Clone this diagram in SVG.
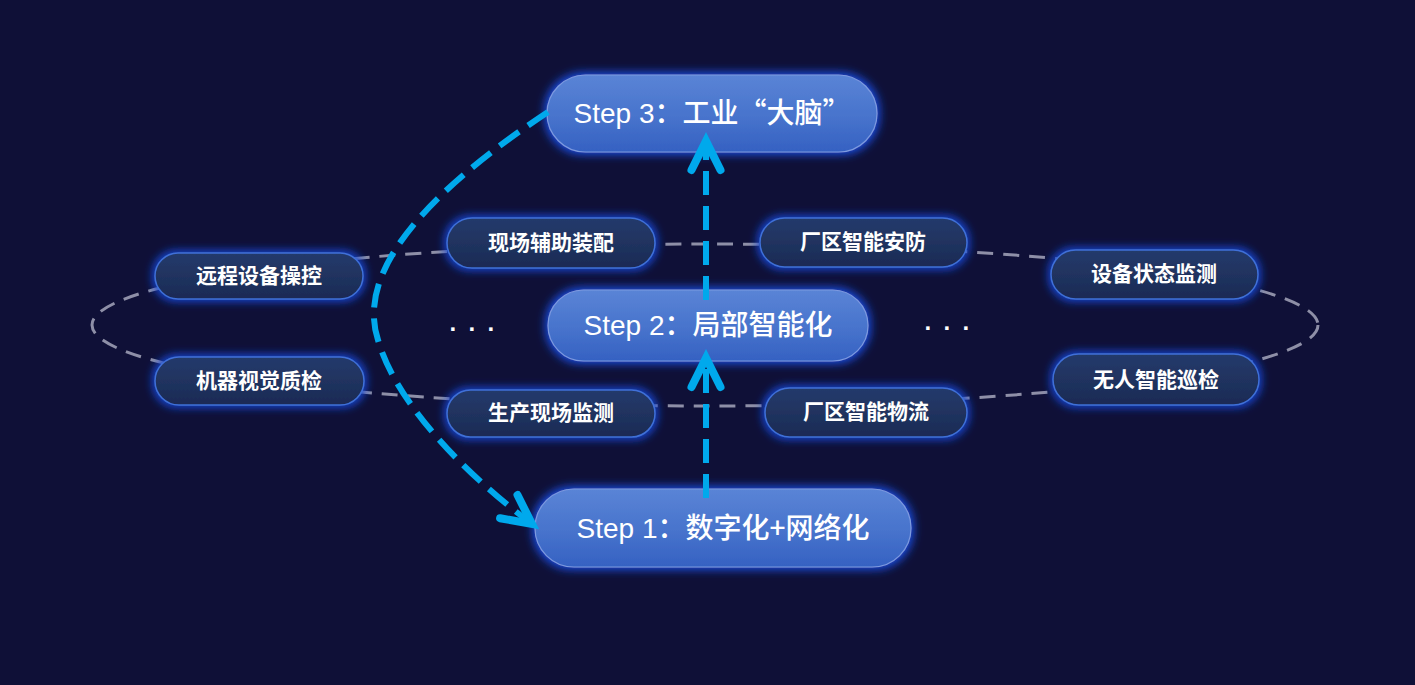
<svg xmlns="http://www.w3.org/2000/svg" width="1415" height="685" viewBox="0 0 1415 685">
  <style>
    .step-text { font-family: "Liberation Sans", "Noto Sans CJK SC", sans-serif; font-size: 28px; fill: #ffffff; text-anchor: middle; }
    .cjk { font-family: "Noto Sans CJK SC", "Liberation Sans", sans-serif; font-weight: 500; }
    .node-text { font-family: "Noto Sans CJK SC", "Liberation Sans", sans-serif; font-size: 21px; font-weight: bold; fill: #ffffff; text-anchor: middle; }
    .step-box { fill: url(#stepGrad); stroke: #7d9be0; stroke-width: 1.2; filter: url(#glowStep); }
    .node-box { fill: url(#nodeGrad); stroke: #3f70d8; stroke-width: 1.5; filter: url(#glowNode); }
    .orbit { fill: none; stroke: #8e8fa7; stroke-width: 3; stroke-dasharray: 16 10; }
    .flow { fill: none; stroke: #00a9ec; stroke-width: 6; stroke-dasharray: 24 11; }
    .dots { font-family: "Liberation Sans", sans-serif; font-size: 24px; font-weight: bold; fill: #ffffff; }
  </style>
  <defs>
    <linearGradient id="stepGrad" x1="0" y1="0" x2="0" y2="1">
      <stop offset="0" stop-color="#5a84d6"/>
      <stop offset="0.55" stop-color="#4773cc"/>
      <stop offset="1" stop-color="#3561c2"/>
    </linearGradient>
    <linearGradient id="nodeGrad" x1="0" y1="0" x2="0" y2="1">
      <stop offset="0" stop-color="#243a6c"/>
      <stop offset="0.5" stop-color="#20335f"/>
      <stop offset="1" stop-color="#1a2a55"/>
    </linearGradient>
    <filter id="glowStep" x="-10%" y="-40%" width="120%" height="180%">
      <feMorphology in="SourceAlpha" operator="dilate" radius="2" result="d"/>
      <feGaussianBlur in="d" stdDeviation="5" result="b"/>
      <feFlood flood-color="#1a50e8" flood-opacity="1"/>
      <feComposite in2="b" operator="in" result="g"/>
      <feMerge><feMergeNode in="g"/><feMergeNode in="SourceGraphic"/></feMerge>
    </filter>
    <filter id="glowNode" x="-15%" y="-50%" width="130%" height="200%">
      <feMorphology in="SourceAlpha" operator="dilate" radius="1.5" result="d"/>
      <feGaussianBlur in="d" stdDeviation="4" result="b"/>
      <feFlood flood-color="#1648d8" flood-opacity="0.95"/>
      <feComposite in2="b" operator="in" result="g"/>
      <feMerge><feMergeNode in="g"/><feMergeNode in="SourceGraphic"/></feMerge>
    </filter>
    <marker id="arrow" markerUnits="userSpaceOnUse" markerWidth="50" markerHeight="50" refX="32" refY="20" orient="auto" overflow="visible">
      <path d="M 3 5.5 L 32 20 L 3 34.5" fill="none" stroke="#00a9ec" stroke-width="8" stroke-linecap="round" stroke-linejoin="miter"/>
    </marker>
  </defs>

  <rect x="0" y="0" width="1415" height="685" fill="#0f1037"/>

  <g id="orbit-ring">
    <ellipse class="orbit" cx="705" cy="325" rx="613" ry="81"/>
  </g>

  <g id="node-step3">
    <rect class="step-box" x="547" y="75" width="330" height="77" rx="38.5"/>
    <text class="step-text" x="712" y="123">Step 3<tspan class="cjk">：工业“大脑”</tspan></text>
  </g>
  <g id="node-step2">
    <rect class="step-box" x="548" y="290" width="320" height="71" rx="35.5"/>
    <text class="step-text" x="708" y="335">Step 2<tspan class="cjk">：局部智能化</tspan></text>
  </g>
  <g id="node-step1">
    <rect class="step-box" x="535" y="489" width="376" height="78" rx="39"/>
    <text class="step-text" x="723" y="538">Step 1<tspan class="cjk">：数字化+网络化</tspan></text>
  </g>

  <g id="node-xianchang-fuzhu">
    <rect class="node-box" x="447" y="218" width="208" height="50" rx="25"/>
    <text class="node-text" x="551" y="250">现场辅助装配</text>
  </g>
  <g id="node-changqu-anfang">
    <rect class="node-box" x="760" y="218" width="207" height="49" rx="24.5"/>
    <text class="node-text" x="863" y="249">厂区智能安防</text>
  </g>
  <g id="node-yuancheng">
    <rect class="node-box" x="155" y="253" width="208" height="46" rx="23"/>
    <text class="node-text" x="259" y="283">远程设备操控</text>
  </g>
  <g id="node-shebei-zhuangtai">
    <rect class="node-box" x="1051" y="250" width="207" height="49" rx="24.5"/>
    <text class="node-text" x="1154" y="281">设备状态监测</text>
  </g>
  <g id="node-jiqi-shijue">
    <rect class="node-box" x="155" y="357" width="209" height="48" rx="24"/>
    <text class="node-text" x="259" y="388">机器视觉质检</text>
  </g>
  <g id="node-wuren-xunjian">
    <rect class="node-box" x="1053" y="354" width="206" height="51" rx="25.5"/>
    <text class="node-text" x="1156" y="387">无人智能巡检</text>
  </g>
  <g id="node-shengchan-jiance">
    <rect class="node-box" x="447" y="390" width="208" height="47" rx="23.5"/>
    <text class="node-text" x="551" y="420">生产现场监测</text>
  </g>
  <g id="node-changqu-wuliu">
    <rect class="node-box" x="765" y="388" width="202" height="49" rx="24.5"/>
    <text class="node-text" x="866" y="419">厂区智能物流</text>
  </g>

  <g id="ellipsis-marks">
    <text class="dots" x="449.5 468.5 487.5" y="331">...</text>
    <text class="dots" x="924.5 943.5 962.5" y="330">...</text>
  </g>

  <g id="connectors">
    <path class="flow" d="M 706 498 L 706 358" marker-end="url(#arrow)"/>
    <path class="flow" d="M 706 300 L 706 141" marker-end="url(#arrow)"/>
    <path class="flow" d="M 548 112 C 430 190, 355 270, 378 340 C 395 400, 460 470, 532 524" marker-end="url(#arrow)"/>
  </g>
</svg>
